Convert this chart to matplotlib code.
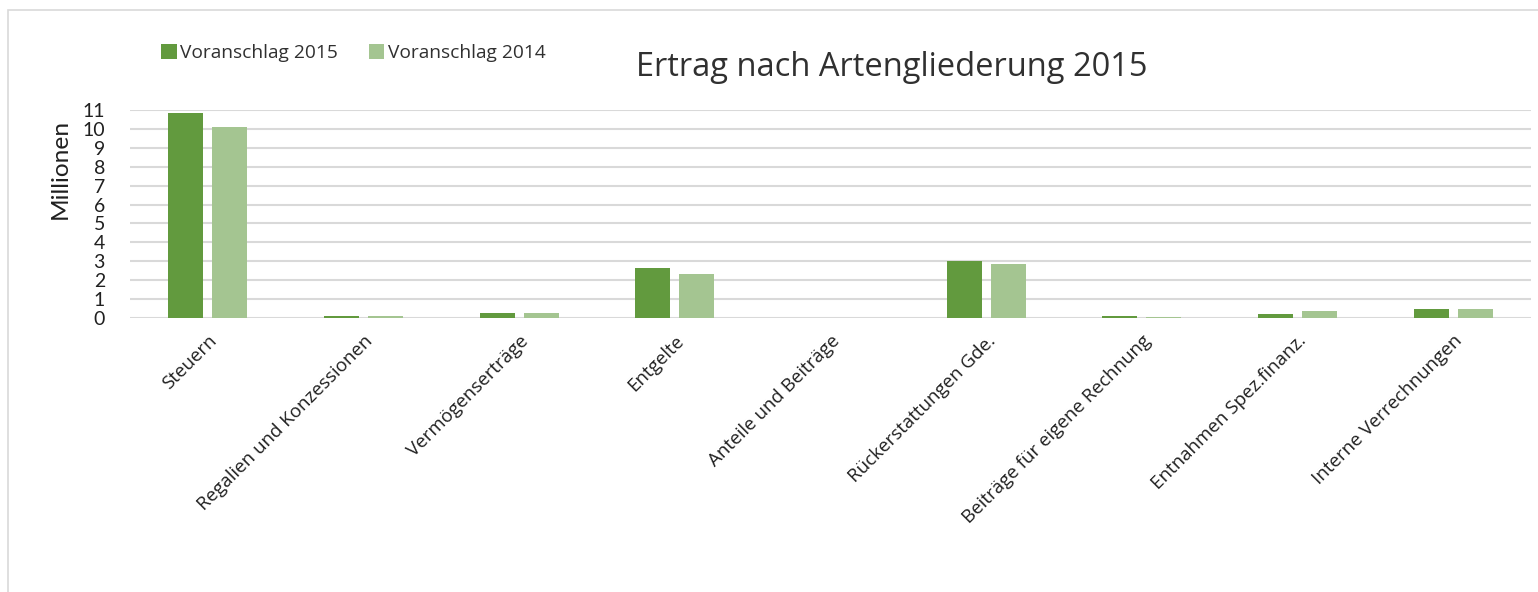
import matplotlib
matplotlib.use("Agg")
import matplotlib.pyplot as plt
import numpy as np
from matplotlib.patches import Rectangle

categories = ["Steuern", "Regalien und Konzessionen", "Vermögenserträge", "Entgelte",
              "Anteile und Beiträge", "Rückerstattungen Gde.", "Beiträge für eigene Rechnung",
              "Entnahmen Spez.finanz.", "Interne Verrechnungen"]
va_2015 = [10.82, 0.12, 0.28, 2.65, 0.0, 3.02, 0.12, 0.19, 0.48]
va_2014 = [10.12, 0.12, 0.28, 2.35, 0.0, 2.86, 0.07, 0.35, 0.47]
yticks = list(range(0, 12))

dark = "#629A3E"
light = "#A4C591"
grid = "#D9D9D9"

fig = plt.figure(figsize=(15.38, 5.92), dpi=100)
fig.patches.append(Rectangle((8 / 1538, -0.1), 1.2, 1.1 - 10 / 592, transform=fig.transFigure,
                             fill=False, edgecolor="#D9D9D9", lw=1.2))
ax = fig.add_axes([130 / 1538, 1 - 318 / 592, 1401 / 1538, (318 - 110) / 592])

x = np.arange(len(categories))
w = 0.225
ax.bar(x - 0.141, va_2015, w, color=dark, label="Voranschlag 2015", zorder=3)
ax.bar(x + 0.141, va_2014, w, color=light, label="Voranschlag 2014", zorder=3)

ax.set_xlim(-0.5, len(categories) - 0.5)
ax.set_ylim(0, 11)
ax.set_yticks(yticks)
ax.set_yticklabels([str(t) for t in yticks], fontsize=14, family="Lato", color="#202020")
ax.yaxis.grid(True, color=grid, lw=1.5, zorder=0)
for s in ax.spines.values():
    s.set_visible(False)
ax.tick_params(length=0)
ax.tick_params(axis="y", pad=18)
ax.set_xticks(x)
ax.set_xticklabels(categories, rotation=45, ha="right", rotation_mode="anchor",
                   fontsize=13.5, family="Open Sans", color="#202020")
ax.tick_params(axis="x", pad=10)
ax.set_ylabel("Millionen", fontsize=17.6, family="Lato", color="#202020")
ax.yaxis.set_label_coords(-59 / 1401, (318 - 169) / 208)

fig.text(892 / 1538, 1 - 68 / 592, "Ertrag nach Artengliederung 2015", ha="center", va="center",
         fontsize=23.5, family="Open Sans", color="#303030")

ax.legend(loc="center left", bbox_to_anchor=(144 / 1538, 1 - 53 / 592), bbox_transform=fig.transFigure,
          ncol=2, frameon=False, prop={"family": "Open Sans", "size": 13.8}, handlelength=0.8,
          handleheight=0.8, handletextpad=0.2, columnspacing=1.6, labelcolor="#303030")

fig.savefig("out.png", dpi=100)
